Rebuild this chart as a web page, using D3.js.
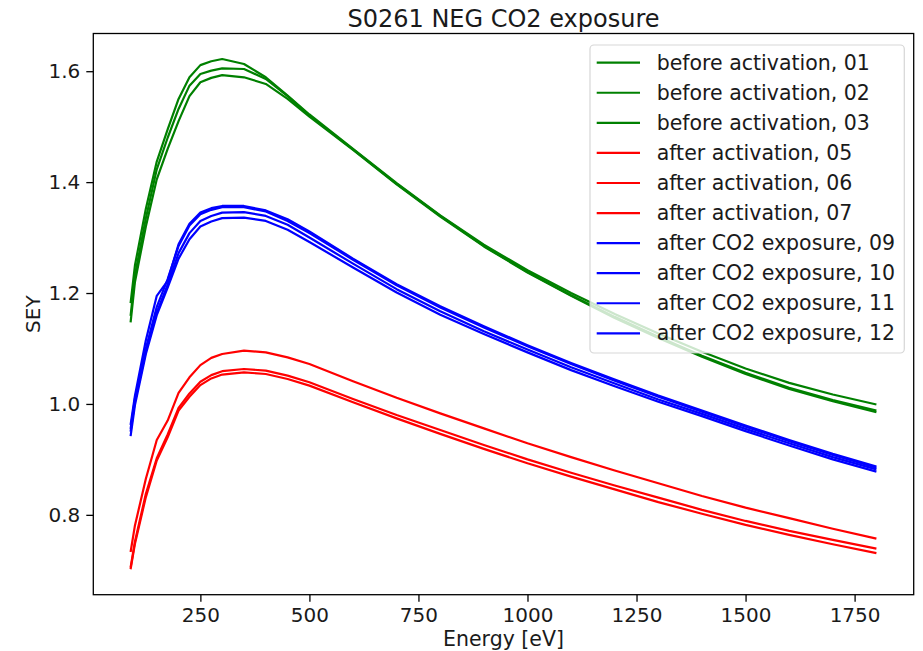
<!DOCTYPE html>
<html>
<head>
<meta charset="utf-8">
<script src="https://cdn.jsdelivr.net/npm/d3@7"></script>
<style>
  html, body { margin: 0; padding: 0; background: #fff; }
  svg { display: block; font-family: "DejaVu Sans", sans-serif; }
</style>
</head>
<body>
<svg id="chart" width="923" height="651"></svg>
<script>
// ---- data ----
const energy = [90,100,125,150,175,200,225,250,275,300,350,400,450,500,600,700,800,900,1000,1100,1200,1300,1400,1500,1600,1700,1800];

const g01 = [1.182,1.250,1.352,1.437,1.495,1.550,1.589,1.611,1.618,1.622,1.613,1.589,1.556,1.522,1.460,1.398,1.340,1.287,1.241,1.200,1.162,1.127,1.094,1.064,1.038,1.017,0.999];
const g02 = [1.159,1.232,1.335,1.423,1.480,1.532,1.574,1.595,1.601,1.605,1.604,1.586,1.555,1.520,1.459,1.397,1.339,1.285,1.238,1.196,1.157,1.121,1.087,1.056,1.029,1.007,0.988];
const g03 = [1.147,1.220,1.320,1.405,1.460,1.510,1.555,1.580,1.588,1.593,1.589,1.577,1.550,1.518,1.458,1.396,1.338,1.284,1.237,1.195,1.155,1.119,1.085,1.054,1.027,1.005,0.985];

const r05 = [0.733,0.781,0.865,0.935,0.970,1.020,1.048,1.070,1.083,1.090,1.096,1.093,1.084,1.072,1.041,1.011,0.983,0.956,0.929,0.904,0.880,0.857,0.834,0.813,0.794,0.775,0.757];
const r06 = [0.705,0.752,0.838,0.902,0.945,0.993,1.019,1.040,1.052,1.059,1.063,1.060,1.051,1.039,1.009,0.980,0.953,0.926,0.900,0.876,0.853,0.831,0.809,0.789,0.771,0.755,0.739];
const r07 = [0.702,0.748,0.832,0.898,0.940,0.988,1.013,1.034,1.046,1.053,1.057,1.054,1.045,1.033,1.003,0.974,0.946,0.919,0.893,0.869,0.846,0.823,0.802,0.782,0.764,0.747,0.731];

const b09 = [0.962,1.015,1.115,1.195,1.222,1.288,1.325,1.345,1.353,1.357,1.357,1.349,1.333,1.311,1.262,1.216,1.176,1.140,1.106,1.074,1.044,1.015,0.988,0.961,0.935,0.910,0.887];
const b10 = [0.955,1.010,1.100,1.175,1.225,1.285,1.322,1.342,1.350,1.355,1.355,1.347,1.330,1.308,1.260,1.214,1.174,1.138,1.104,1.072,1.042,1.013,0.986,0.959,0.933,0.908,0.885];
const b11 = [0.950,1.005,1.095,1.165,1.215,1.272,1.308,1.330,1.339,1.345,1.346,1.339,1.323,1.300,1.253,1.207,1.167,1.131,1.098,1.066,1.037,1.008,0.982,0.955,0.929,0.904,0.882];
const b12 = [0.942,0.998,1.090,1.160,1.210,1.262,1.297,1.320,1.329,1.335,1.336,1.330,1.314,1.292,1.246,1.201,1.161,1.126,1.093,1.061,1.032,1.004,0.978,0.951,0.925,0.900,0.878];

const seriesLabels = [
  "before activation, 01","before activation, 02","before activation, 03",
  "after activation, 05","after activation, 06","after activation, 07",
  "after CO2 exposure, 09","after CO2 exposure, 10","after CO2 exposure, 11","after CO2 exposure, 12"
];
const seriesValues = [g01,g02,g03,r05,r06,r07,b09,b10,b11,b12];
const seriesColors = ["#008000","#008000","#008000","#ff0000","#ff0000","#ff0000","#0000ff","#0000ff","#0000ff","#0000ff"];

const xTicks = [250,500,750,1000,1250,1500,1750];
const yTicks = [0.8,1.0,1.2,1.4,1.6];

const titleText = "S0261 NEG CO2 exposure";
const xLabel = "Energy [eV]";
const yLabel = "SEY";

// ---- layout ----
const plot = {left: 93.3, right: 913.7, top: 33.5, bottom: 594.7};
const svg = d3.select("#chart");

const xExt = d3.extent(energy);
const allY = seriesValues.flat();
const yExt = d3.extent(allY);
const xPad = (xExt[1]-xExt[0])*0.05, yPad = (yExt[1]-yExt[0])*0.05;

const x = d3.scaleLinear().domain([xExt[0]-xPad, xExt[1]+xPad]).range([plot.left, plot.right]);
const y = d3.scaleLinear().domain([yExt[0]-yPad, yExt[1]+yPad]).range([plot.bottom, plot.top]);

// lines
const line = d3.line().x((d,i)=>x(energy[i])).y(d=>y(d));
const gLines = svg.append("g");
seriesValues.forEach((vals,k)=>{
  gLines.append("path")
    .attr("d", line(vals))
    .attr("fill","none")
    .attr("stroke", seriesColors[k])
    .attr("stroke-width", 2.2)
    .attr("stroke-linejoin","round");
});

// axes
const xAxis = d3.axisBottom(x).tickValues(xTicks).tickSize(7).tickPadding(6).tickFormat(d3.format("d"));
const yAxis = d3.axisLeft(y).tickValues(yTicks).tickSize(7).tickPadding(6).tickFormat(d3.format(".1f"));

const gx = svg.append("g").attr("transform",`translate(0,${plot.bottom})`).call(xAxis);
const gy = svg.append("g").attr("transform",`translate(${plot.left},0)`).call(yAxis);
[gx,gy].forEach(g=>{
  g.select(".domain").remove();
  g.selectAll(".tick line").attr("stroke","#000").attr("stroke-width",1.3);
  g.selectAll(".tick text").attr("fill","#1a1a1a").style("font-size","20px").style("font-family","DejaVu Sans");
});

// frame
svg.append("rect")
  .attr("x",plot.left).attr("y",plot.top)
  .attr("width",plot.right-plot.left).attr("height",plot.bottom-plot.top)
  .attr("fill","none").attr("stroke","#000").attr("stroke-width",1.3);

// title and labels
svg.append("text").attr("x",(plot.left+plot.right)/2).attr("y",26.5)
  .attr("text-anchor","middle").style("font-size","24px").attr("fill","#1a1a1a").text(titleText);
svg.append("text").attr("x",(plot.left+plot.right)/2).attr("y",645.5)
  .attr("text-anchor","middle").style("font-size","20.5px").attr("fill","#1a1a1a").text(xLabel);
svg.append("text").attr("transform",`translate(40,${(plot.top+plot.bottom)/2}) rotate(-90)`)
  .attr("text-anchor","middle").style("font-size","20px").attr("fill","#1a1a1a").text(yLabel);

// legend
const leg = {x:590, y:45, w:314.3, h:308, rowY0:62.7, rowDy:30.07};
const gLeg = svg.append("g");
gLeg.append("rect").attr("x",leg.x).attr("y",leg.y).attr("width",leg.w).attr("height",leg.h)
  .attr("rx",4).attr("ry",4)
  .attr("fill","rgba(255,255,255,0.8)").attr("stroke","rgba(204,204,204,0.8)").attr("stroke-width",1.2);
seriesLabels.forEach((lab,i)=>{
  const ry = leg.rowY0 + i*leg.rowDy;
  gLeg.append("line").attr("x1",596.7).attr("x2",640).attr("y1",ry).attr("y2",ry)
    .attr("stroke",seriesColors[i]).attr("stroke-width",2.2);
  gLeg.append("text").attr("x",656.7).attr("y",ry+6.8)
    .style("font-size","20.5px").attr("fill","#1a1a1a").text(lab);
});
</script>
</body>
</html>
